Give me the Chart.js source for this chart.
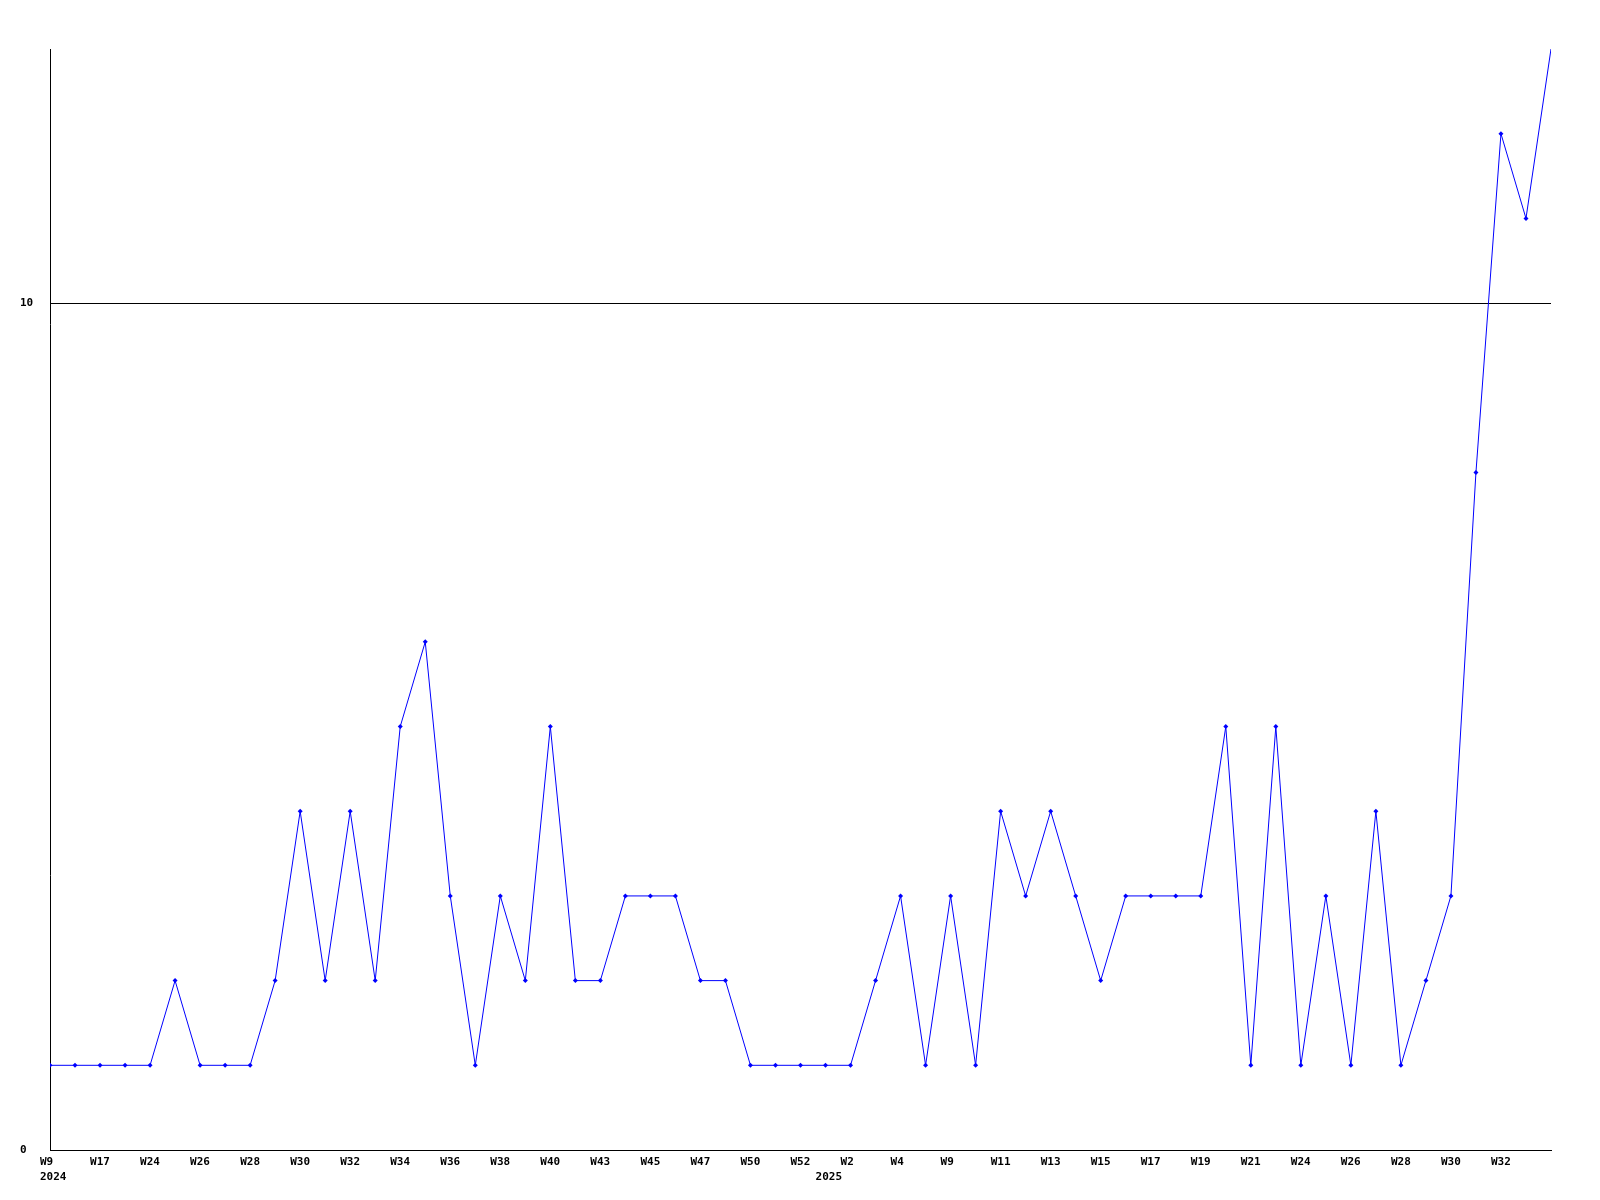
<!DOCTYPE html>
<html>
<head>
<meta charset="utf-8">
<script src="https://cdn.jsdelivr.net/npm/chart.js@4/dist/chart.umd.min.js"></script>
<style>
  html, body { margin: 0; padding: 0; background: #fff; }
  #wrap { width: 1600px; height: 1200px; }
</style>
</head>
<body>
<div id="wrap"><canvas id="chart" width="1600" height="1200"></canvas></div>
<script>
// weeks shown on the x axis (weeks with no value are skipped)
const weeks = [
  'W9', 'W16', 'W17', 'W23', 'W24', 'W25', 'W26', 'W27', 'W28', 'W29',
  'W30', 'W31', 'W32', 'W33', 'W34', 'W35', 'W36', 'W37', 'W38', 'W39',
  'W40', 'W42', 'W43', 'W44', 'W45', 'W46', 'W47', 'W49', 'W50', 'W51',
  'W52', 'W1', 'W2', 'W3', 'W4', 'W8', 'W9', 'W10', 'W11', 'W12',
  'W13', 'W14', 'W15', 'W16', 'W17', 'W18', 'W19', 'W20', 'W21', 'W23',
  'W24', 'W25', 'W26', 'W27', 'W28', 'W29', 'W30', 'W31', 'W32', 'W33',
  'W34'
];
const years = [
  2024, 2024, 2024, 2024, 2024, 2024, 2024, 2024, 2024, 2024,
  2024, 2024, 2024, 2024, 2024, 2024, 2024, 2024, 2024, 2024,
  2024, 2024, 2024, 2024, 2024, 2024, 2024, 2024, 2024, 2024,
  2024, 2025, 2025, 2025, 2025, 2025, 2025, 2025, 2025, 2025,
  2025, 2025, 2025, 2025, 2025, 2025, 2025, 2025, 2025, 2025,
  2025, 2025, 2025, 2025, 2025, 2025, 2025, 2025, 2025, 2025,
  2025
];
const counts = [
  1, 1, 1, 1, 1, 2, 1, 1, 1, 2,
  4, 2, 4, 2, 5, 6, 3, 1, 3, 2,
  5, 2, 2, 3, 3, 3, 2, 2, 1, 1,
  1, 1, 1, 2, 3, 1, 3, 1, 4, 3,
  4, 3, 2, 3, 3, 3, 3, 5, 1, 5,
  1, 3, 1, 4, 1, 2, 3, 8, 12, 11,
  13
];
const yTicks = [0, 10];

const tickFont = { family: 'DejaVu Sans Mono', size: 11, weight: 'bold', lineHeight: '15px' };

// every other week gets a label (not the last one), years go on a second row
function tickLabel(i) {
  const lines = [];
  const newYear = i === 0 || years[i] !== years[i - 1];
  lines.push(i % 2 === 0 && i < weeks.length - 1 ? weeks[i] : '');
  if (newYear) lines.push(String(years[i]));
  return lines;
}

new Chart(document.getElementById('chart'), {
  type: 'line',
  data: {
    labels: weeks,
    datasets: [{
      data: counts,
      borderColor: '#0000ff',
      backgroundColor: '#0000ff',
      borderWidth: 1,
      tension: 0,
      pointStyle: 'rectRot',
      pointRadius: ctx => ctx.dataIndex === counts.length - 1 ? 0 : 2.5,
      pointBorderWidth: 0,
      clip: 0
    }]
  },
  options: {
    responsive: false,
    animation: false,
    events: [],
    layout: { padding: { left: 20, top: 49, right: 49, bottom: 0 } },
    plugins: { legend: { display: false }, tooltip: { enabled: false } },
    scales: {
      x: {
        offset: false,
        grid: { display: false, drawTicks: false },
        border: { display: true, color: '#000', width: 1 },
        ticks: {
          autoSkip: false,
          maxRotation: 0,
          align: 'start',
          labelOffset: -10,
          padding: 5,
          color: '#000',
          font: tickFont,
          callback: (v, i) => tickLabel(i)
        },
        afterFit: s => { s.height = 50; }
      },
      y: {
        min: 0,
        max: 13,
        grid: { color: '#000', lineWidth: 1, drawTicks: false },
        border: { display: true, color: '#000', width: 1 },
        ticks: {
          crossAlign: 'far',
          padding: 0,
          color: '#000',
          font: tickFont
        },
        afterBuildTicks: s => { s.ticks = yTicks.map(v => ({ value: v })); },
        afterFit: s => { s.width = 30; }
      }
    }
  }
});
</script>
</body>
</html>
